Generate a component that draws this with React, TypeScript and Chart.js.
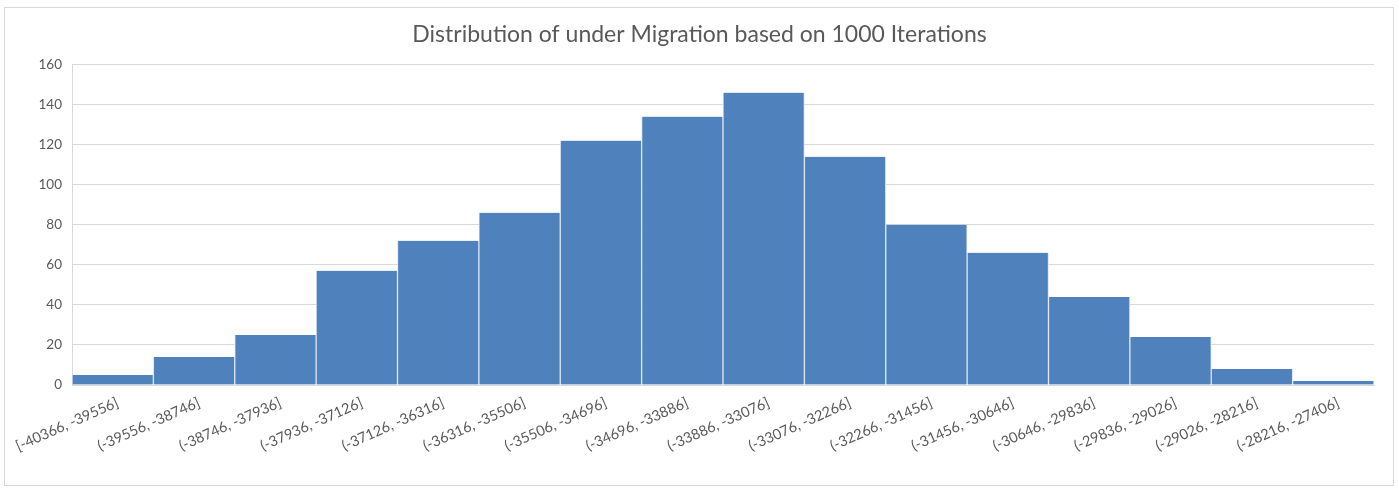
import React, { useEffect, useRef } from "react";
import { Chart, registerables } from "chart.js";

Chart.register(...registerables);

const titleText = "Distribution of under Migration based on 1000 Iterations";

const binLabels = [
  "[-40366, -39556]",
  "(-39556, -38746]",
  "(-38746, -37936]",
  "(-37936, -37126]",
  "(-37126, -36316]",
  "(-36316, -35506]",
  "(-35506, -34696]",
  "(-34696, -33886]",
  "(-33886, -33076]",
  "(-33076, -32266]",
  "(-32266, -31456]",
  "(-31456, -30646]",
  "(-30646, -29836]",
  "(-29836, -29026]",
  "(-29026, -28216]",
  "(-28216, -27406]",
];

const frequencies = [5, 14, 25, 57, 72, 86, 122, 134, 146, 114, 80, 66, 44, 24, 8, 2];

const yMin = 0;
const yMax = 160;
const yStep = 20;

const FONT = "Lato, 'Open Sans', sans-serif";
const TEXT = "#595959";

export default function App() {
  const ref = useRef<HTMLCanvasElement | null>(null);

  useEffect(() => {
    if (!ref.current) return;
    const chart = new Chart(ref.current, {
      type: "bar",
      data: {
        labels: binLabels,
        datasets: [
          {
            data: frequencies,
            backgroundColor: "#4F81BD",
            borderColor: "#DCE6F2",
            borderWidth: { left: 1, right: 1, top: 0, bottom: 0 } as any,
            borderSkipped: false,
            categoryPercentage: 1,
            barPercentage: 1,
          },
        ],
      },
      options: {
        responsive: false,
        animation: false,
        devicePixelRatio: 1,
        layout: { padding: 0 },
        plugins: {
          legend: { display: false },
          tooltip: { enabled: false },
          title: {
            display: true,
            text: titleText,
            color: TEXT,
            font: { family: FONT, size: 23, weight: "normal" },
            padding: { top: 21, bottom: 16 },
          },
        },
        scales: {
          x: {
            grid: { display: false, drawTicks: false },
            border: { display: true, color: "#D9D9D9" },
            ticks: {
              autoSkip: false,
              minRotation: 24,
              maxRotation: 24,
              color: TEXT,
              padding: 9,
              labelOffset: 5,
              font: { family: FONT, size: 14.5 },
            },
            afterFit: (s: any) => {
              s.height = 105;
              s.paddingLeft = 0;
              s.paddingRight = 0;
            },
          },
          y: {
            min: yMin,
            max: yMax,
            grid: { color: "#D9D9D9", drawTicks: false },
            border: { display: true, color: "#D9D9D9" },
            ticks: {
              stepSize: yStep,
              color: TEXT,
              padding: 10,
              font: { family: FONT, size: 13.5 },
            },
            afterFit: (s: any) => {
              s.width = 72;
            },
          },
          yRightSpacer: {
            position: "right",
            min: yMin,
            max: yMax,
            grid: { display: false, drawTicks: false },
            border: { display: false },
            ticks: { display: false },
            afterFit: (s: any) => {
              s.width = 25;
            },
          },
        },
      },
    });
    return () => chart.destroy();
  }, []);

  return (
    <div style={{ position: "fixed", left: 0, top: 0, width: 1399, height: 490, background: "#fff" }}>
      <canvas ref={ref} width={1399} height={490} style={{ position: "absolute", left: 0, top: 0, width: 1399, height: 490 }} />
      <div
        style={{
          position: "absolute",
          left: 4,
          top: 7,
          width: 1388,
          height: 477,
          border: "1px solid #D9D9D9",
          pointerEvents: "none",
        }}
      />
    </div>
  );
}
